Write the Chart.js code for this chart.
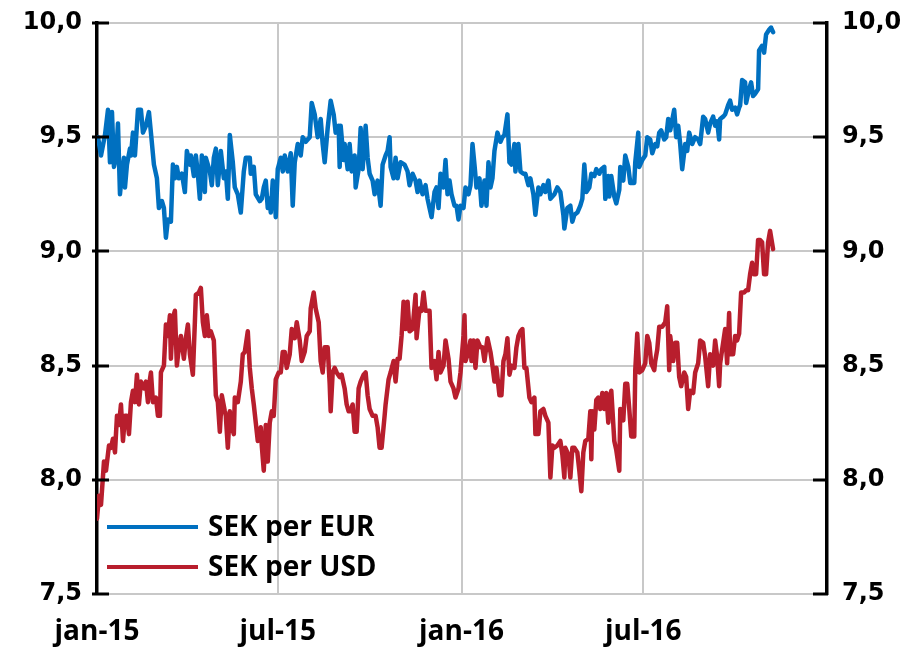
<!DOCTYPE html>
<html><head><meta charset="utf-8">
<script src="https://cdn.jsdelivr.net/npm/chart.js@4/dist/chart.umd.min.js"></script>
<style>html,body{margin:0;padding:0;background:#fff}#wrap{width:912px;height:651px}</style>
</head><body><div id="wrap"><canvas id="c" width="912" height="651"></canvas></div>
<script>
// Days since 2015-01-01
const blueDays = [1,4,8,11,13,15,17,19,21,23,25,27,28,30,33,34,36,38,41,44,46,49,52,54,57,60,62,65,67,69,71,74,76,78,80,82,85,88,90,93,94,97,99,101,103,105,108,109,113,115,117,119,121,124,127,129,131,133,136,138,141,144,147,149,153,154,157,159,163,165,167,169,171,173,174,176,178,179,181,184,186,188,191,194,196,198,201,204,206,209,213,215,218,221,224,226,228,231,234,237,239,242,243,244,247,248,251,253,255,258,259,262,264,266,269,271,273,276,278,281,284,286,289,291,293,294,297,299,301,304,308,311,313,316,319,321,323,326,329,331,333,335,338,340,342,344,347,349,351,353,355,358,360,362,364,367,369,372,374,376,378,380,383,385,388,390,392,394,396,398,401,404,406,408,411,413,415,418,419,422,424,427,429,432,434,437,439,442,444,447,449,452,454,458,461,464,467,468,471,474,476,478,481,484,486,488,490,493,495,498,500,503,505,508,509,512,513,515,518,520,523,524,527,529,532,534,538,539,542,543,546,549,551,554,556,559,561,563,565,568,570,572,574,578,580,582,584,586,589,591,593,596,599,602,604,607,609,612,614,617,619,621,623,624,627,629,632,634,636,639,641,643,644,646,649,650,653,655,657,659,662,663,666,668,670,673,675,677];
const blueVals = [9.50,9.42,9.51,9.62,9.39,9.61,9.37,9.41,9.56,9.25,9.34,9.41,9.28,9.38,9.45,9.42,9.52,9.42,9.62,9.62,9.52,9.55,9.61,9.52,9.38,9.32,9.19,9.22,9.19,9.06,9.14,9.13,9.38,9.32,9.37,9.32,9.34,9.26,9.44,9.38,9.42,9.33,9.42,9.34,9.23,9.42,9.26,9.41,9.35,9.29,9.41,9.45,9.29,9.44,9.32,9.35,9.23,9.51,9.39,9.28,9.25,9.17,9.35,9.41,9.41,9.34,9.37,9.25,9.22,9.23,9.28,9.31,9.19,9.23,9.17,9.31,9.25,9.15,9.36,9.41,9.35,9.42,9.35,9.43,9.20,9.39,9.47,9.42,9.50,9.48,9.50,9.65,9.60,9.50,9.58,9.47,9.39,9.54,9.66,9.60,9.52,9.55,9.37,9.55,9.40,9.47,9.36,9.47,9.35,9.42,9.28,9.36,9.54,9.36,9.55,9.41,9.34,9.31,9.25,9.31,9.20,9.38,9.42,9.44,9.50,9.37,9.32,9.41,9.32,9.39,9.38,9.35,9.29,9.34,9.31,9.26,9.31,9.25,9.29,9.23,9.19,9.15,9.26,9.28,9.19,9.34,9.28,9.40,9.25,9.31,9.25,9.20,9.20,9.14,9.20,9.19,9.28,9.25,9.29,9.47,9.38,9.28,9.32,9.20,9.31,9.20,9.39,9.28,9.32,9.44,9.52,9.48,9.50,9.51,9.60,9.39,9.38,9.47,9.35,9.47,9.35,9.34,9.34,9.29,9.32,9.25,9.16,9.28,9.25,9.29,9.26,9.31,9.23,9.25,9.28,9.26,9.16,9.10,9.19,9.20,9.13,9.16,9.17,9.20,9.23,9.38,9.26,9.28,9.34,9.33,9.36,9.34,9.36,9.37,9.23,9.33,9.24,9.33,9.24,9.21,9.27,9.37,9.31,9.42,9.37,9.30,9.30,9.39,9.52,9.37,9.40,9.42,9.50,9.49,9.43,9.47,9.46,9.52,9.53,9.49,9.50,9.58,9.53,9.62,9.50,9.55,9.47,9.36,9.47,9.44,9.52,9.47,9.50,9.49,9.47,9.59,9.58,9.52,9.56,9.59,9.55,9.57,9.49,9.58,9.59,9.60,9.64,9.66,9.62,9.63,9.60,9.63,9.64,9.75,9.74,9.65,9.71,9.74,9.68,9.69,9.71,9.88,9.90,9.87,9.95,9.97,9.98,9.96];
const redDays = [0,2,4,7,9,12,14,16,18,20,22,24,26,28,30,32,34,36,38,40,42,44,47,49,51,53,54,56,59,61,63,64,67,69,71,73,74,76,78,80,82,84,87,89,91,93,96,98,99,102,104,106,108,110,112,114,117,119,121,123,125,128,129,131,133,135,137,138,141,144,146,148,151,153,155,157,159,161,164,165,167,169,171,173,175,177,179,182,184,186,188,190,193,195,198,200,203,205,208,210,213,214,217,219,222,224,226,228,231,233,234,236,238,240,243,245,248,250,252,254,256,258,260,262,264,267,269,271,273,276,279,281,283,285,288,289,292,294,297,299,301,303,305,307,309,311,313,316,319,320,323,325,327,329,331,333,335,338,340,342,344,347,349,352,354,357,359,362,364,367,368,369,372,374,375,377,379,381,384,386,388,391,394,396,398,400,403,405,407,409,411,413,415,418,420,422,424,426,428,430,433,435,438,439,442,444,447,449,452,454,456,458,461,464,466,468,469,472,474,476,478,481,483,485,487,489,492,494,495,496,498,500,502,504,506,508,510,512,513,515,518,520,523,524,527,529,531,533,535,538,539,541,543,546,549,551,553,555,558,559,561,563,566,569,571,573,574,577,579,581,583,585,588,590,592,594,597,599,602,604,607,609,612,614,617,619,621,623,624,627,629,631,633,634,637,639,641,643,645,648,650,652,654,656,658,660,662,664,666,668,670,672,674,677];
const redVals = [7.83,7.93,7.89,8.08,8.04,8.15,8.14,8.18,8.12,8.28,8.24,8.33,8.17,8.28,8.28,8.20,8.34,8.39,8.34,8.46,8.33,8.43,8.40,8.43,8.34,8.44,8.47,8.34,8.36,8.28,8.28,8.47,8.50,8.68,8.63,8.72,8.53,8.71,8.74,8.50,8.58,8.63,8.53,8.62,8.68,8.55,8.46,8.69,8.81,8.82,8.84,8.69,8.63,8.72,8.63,8.65,8.61,8.37,8.34,8.21,8.37,8.30,8.28,8.14,8.30,8.23,8.20,8.36,8.34,8.43,8.55,8.56,8.65,8.49,8.40,8.33,8.25,8.17,8.23,8.15,8.04,8.24,8.08,8.25,8.30,8.28,8.44,8.47,8.47,8.56,8.56,8.49,8.55,8.66,8.62,8.69,8.61,8.52,8.56,8.63,8.65,8.75,8.82,8.75,8.69,8.52,8.47,8.58,8.58,8.42,8.30,8.47,8.49,8.47,8.45,8.46,8.40,8.33,8.30,8.30,8.33,8.21,8.21,8.40,8.43,8.46,8.47,8.37,8.31,8.28,8.28,8.23,8.14,8.14,8.28,8.33,8.44,8.47,8.52,8.43,8.53,8.53,8.63,8.78,8.66,8.78,8.65,8.66,8.81,8.62,8.75,8.74,8.82,8.74,8.74,8.74,8.49,8.52,8.44,8.56,8.47,8.50,8.61,8.53,8.43,8.40,8.36,8.40,8.47,8.63,8.72,8.52,8.56,8.61,8.52,8.61,8.49,8.61,8.58,8.58,8.52,8.62,8.56,8.50,8.43,8.49,8.37,8.37,8.52,8.55,8.62,8.46,8.50,8.49,8.58,8.63,8.65,8.66,8.49,8.49,8.36,8.34,8.36,8.20,8.20,8.30,8.31,8.28,8.25,8.01,8.15,8.14,8.15,8.17,8.11,8.01,8.14,8.11,8.01,8.14,8.14,8.12,8.04,7.95,8.12,8.17,8.18,8.30,8.09,8.30,8.22,8.35,8.36,8.31,8.38,8.31,8.38,8.25,8.35,8.39,8.17,8.13,8.04,8.31,8.26,8.42,8.42,8.31,8.19,8.19,8.48,8.64,8.47,8.48,8.51,8.63,8.60,8.51,8.48,8.52,8.57,8.67,8.67,8.69,8.76,8.48,8.63,8.52,8.60,8.60,8.45,8.41,8.47,8.45,8.31,8.39,8.38,8.47,8.51,8.61,8.60,8.54,8.41,8.55,8.50,8.61,8.54,8.41,8.51,8.60,8.66,8.51,8.73,8.55,8.55,8.63,8.61,8.64,8.82,8.82,8.83,8.83,8.90,8.95,8.90,8.90,9.05,9.05,9.04,8.90,8.90,9.04,9.09,9.01];
const seriesLabels = ['SEK per EUR', 'SEK per USD'];
const seriesColors = ['#0070C0', '#B81E2D'];
const xTickDays = [0, 181, 365, 547, 731];
const xTickLabels = ['jan-15', 'jul-15', 'jan-16', 'jul-16', ''];
const yTickValues = [7.5, 8.0, 8.5, 9.0, 9.5, 10.0];

const toPts = (d, v) => d.map((x, i) => ({x: x, y: v[i]}));
const yFmt = v => Number(v).toFixed(1).replace('.', ',');

const tickMarks = {
  id: 'tickMarks',
  afterDraw(chart) {
    const ctx = chart.ctx, a = chart.chartArea;
    const yl = chart.scales.y;
    ctx.save();
    ctx.strokeStyle = '#000';
    ctx.lineWidth = 3;
    yTickValues.forEach(v => {
      const py = Math.round(yl.getPixelForValue(v));
      ctx.beginPath(); ctx.moveTo(a.left - 5, py); ctx.lineTo(a.left + 12, py); ctx.stroke();
      ctx.beginPath(); ctx.moveTo(a.right - 14, py); ctx.lineTo(a.right + 1, py); ctx.stroke();
    });
    const ys = [527, 567];
    chart.data.datasets.forEach((ds, i) => {
      ctx.strokeStyle = ds.borderColor;
      ctx.lineWidth = 4;
      ctx.lineCap = 'butt';
      ctx.beginPath(); ctx.moveTo(107, ys[i]); ctx.lineTo(198, ys[i]); ctx.stroke();
      ctx.fillStyle = '#000';
      ctx.font = 'bold 28px "Open Sans"';
      ctx.textBaseline = 'alphabetic';
      ctx.textAlign = 'left';
      ctx.fillText(ds.label, 208, ys[i] + 9);
    });
    ctx.restore();
  }
};

const fitY = w => s => { s.width = w; s.paddingTop = 0; s.paddingBottom = 0; };

new Chart(document.getElementById('c'), {
  type: 'line',
  data: {
    datasets: [
      {label: seriesLabels[0], data: toPts(blueDays, blueVals), borderColor: seriesColors[0]},
      {label: seriesLabels[1], data: toPts(redDays, redVals), borderColor: seriesColors[1]}
    ]
  },
  options: {
    responsive: false,
    devicePixelRatio: 1,
    animation: false,
    events: [],
    layout: {padding: {top: 23, left: 0, right: 0, bottom: 0}},
    elements: {
      point: {radius: 0},
      line: {borderWidth: 4.5, tension: 0, borderJoinStyle: 'round', borderCapStyle: 'round'}
    },
    plugins: {legend: {display: false}, tooltip: {enabled: false}},
    scales: {
      x: {
        type: 'linear', position: 'bottom', min: 0, max: 731,
        afterBuildTicks: s => { s.ticks = xTickDays.map(v => ({value: v})); },
        afterFit: s => { s.height = 57; },
        ticks: {
          autoSkip: false, maxRotation: 0, padding: 21, color: '#000',
          font: {family: '"Open Sans"', size: 28, weight: 'bold'},
          callback: (v) => { const i = xTickDays.indexOf(v); return i >= 0 ? xTickLabels[i] : ''; }
        },
        grid: {color: '#c8c8c8', lineWidth: 2, drawTicks: false},
        border: {display: false}
      },
      y: {
        position: 'left', min: 7.5, max: 10,
        afterBuildTicks: s => { s.ticks = yTickValues.map(v => ({value: v})); },
        afterFit: fitY(97),
        ticks: {padding: 15, color: '#000', font: {family: '"DejaVu Sans"', size: 24, weight: 'bold'}, callback: yFmt},
        grid: {color: '#c8c8c8', lineWidth: 2, drawTicks: false},
        border: {display: true, color: '#000', width: 3.5}
      },
      y2: {
        position: 'right', min: 7.5, max: 10,
        afterBuildTicks: s => { s.ticks = yTickValues.map(v => ({value: v})); },
        afterFit: fitY(85),
        ticks: {padding: 15, color: '#000', font: {family: '"DejaVu Sans"', size: 24, weight: 'bold'}, callback: yFmt},
        grid: {display: false, drawTicks: false},
        border: {display: true, color: '#000', width: 3.5}
      }
    }
  },
  plugins: [tickMarks]
});
</script></body></html>
